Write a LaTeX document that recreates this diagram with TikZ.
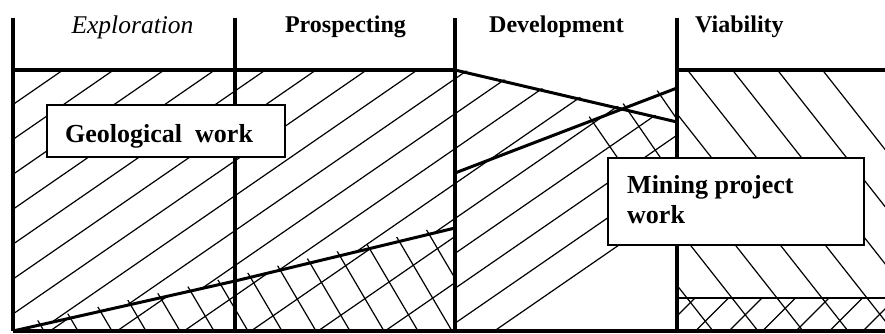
\documentclass[tikz,border=0pt]{standalone}
\usepackage{fontspec}
\setmainfont{Liberation Serif}
% #1 x position of line 0 on the reference height #2, #3 horizontal spacing,
% #4 slope (positive: rising to the right), #5..#6 index range
\newcommand\hatchset[6]{%
  \foreach \k in {#5,...,#6}{%
    \pgfmathsetmacro\hxa{#1+#3*\k-400}%
    \pgfmathsetmacro\hya{#2+#4*400}%
    \pgfmathsetmacro\hxb{#1+#3*\k+400}%
    \pgfmathsetmacro\hyb{#2-#4*400}%
    \draw[hatchline] (\hxa,\hya) -- (\hxb,\hyb);}}
\begin{document}
\begin{tikzpicture}[x=1pt,y=-1pt,
  vframe/.style={line width=4.5pt},
  hframe/.style={line width=3.6pt},
  bound/.style={line width=3pt},
  hatchline/.style={line width=1.2pt},
  boxstyle/.style={draw, line width=1.1pt, fill=white, inner sep=0pt},
  head/.style={font=\fontsize{24}{28}\selectfont\bfseries, inner sep=0pt},
  boxtext/.style={font=\fontsize{26}{30}\selectfont\bfseries, inner sep=0pt, anchor=base west}]
\useasboundingbox (0,0) rectangle (885,333);
% key coordinates
\coordinate (v1t) at (13,18);   \coordinate (v1b) at (13,331);
\coordinate (v2t) at (235,18);  \coordinate (v2b) at (235,331);
\coordinate (v3t) at (455,18);  \coordinate (v3b) at (455,331);
\coordinate (v4t) at (677,18);  \coordinate (v4b) at (677,331);
\coordinate (bl) at (13,331);   \coordinate (br) at (885,331);
\coordinate (tl) at (13,70);    \coordinate (tm) at (455,70);
\coordinate (tv) at (677,70);   \coordinate (tr) at (885,70);
\coordinate (lb1) at (13,331);  \coordinate (lb2) at (235,281); \coordinate (lb3) at (455,228);
\coordinate (d1) at (455,70);   \coordinate (d2) at (677,122);
\coordinate (a1) at (455,173);  \coordinate (a2) at (677,88);
\coordinate (vl) at (677,298);  \coordinate (vr) at (885,298);
% --- hatching: exploration / prospecting, upper single hatch
\begin{scope}
  \clip (13,70) -- (455,70) -- (455,228) -- (235,281) -- (13,331) -- cycle;
  \hatchset{63}{70}{50.6}{0.69}{-10}{16}
\end{scope}
% lower-left cross hatch
\begin{scope}
  \clip (13,331) -- (235,281) -- (455,228) -- (455,331) -- cycle;
  \hatchset{50}{331}{67}{0.69}{-3}{12}
\end{scope}
\begin{scope}
  \clip (13,326) -- (235,276) -- (455,223) -- (455,331) -- (13,331) -- cycle;
  \hatchset{78}{331}{34}{-1.7}{-2}{14}
\end{scope}
% development: "/" below descending line
\begin{scope}
  \clip (455,68) -- (677,120) -- (677,331) -- (455,331) -- cycle;
  \hatchset{63}{70}{50.6}{0.69}{-10}{16}
\end{scope}
% development: "\" below ascending line
\begin{scope}
  \clip (455,168) -- (677,83) -- (677,331) -- (455,331) -- cycle;
  \hatchset{823}{331}{43}{-1.45}{-2}{12}
\end{scope}
% viability
\begin{scope}
  \clip (677,70) rectangle (885,331);
  \hatchset{758}{331}{45}{-1.27}{-8}{6}
\end{scope}
\begin{scope}
  \clip (677,298) rectangle (885,331);
  \hatchset{695}{298}{33.5}{1.0}{-2}{8}
\end{scope}
% --- frame lines
\draw[hframe] (tl) -- (tm);
\draw[hframe] (tv) -- (tr);
\draw[hframe] (bl) -- (br);
\draw[hatchline] (vl) -- (vr);
\draw[bound] (lb1) -- (lb2) -- (lb3);
\draw[bound] (d1) -- (d2);
\draw[bound] (a1) -- (a2);
\draw[vframe] (v1t) -- (v1b);
\draw[vframe] (v2t) -- (v2b);
\draw[vframe] (v3t) -- (v3b);
\draw[vframe] (v4t) -- (v4b);
% --- headers
\node[inner sep=0pt, anchor=base, font=\fontsize{25.5}{28}\selectfont\itshape] (hexp) at (132.5,33) {Exploration};
\node[head, anchor=base] (hpro) at (345.5,32) {Prospecting};
\node[head, anchor=base] (hdev) at (556.5,32) {Development};
\node[head, anchor=base west] (hvia) at (695,32) {Viability};
% --- boxes
\node[boxstyle, minimum width=238pt, minimum height=52pt] (geobox) at (166,131) {};
\node[boxtext] (geotext) at (65,142) {Geological~~work};
\node[boxstyle, minimum width=256pt, minimum height=87pt] (minbox) at (736,201.5) {};
\node[boxtext] (mintext1) at (627,193) {Mining project};
\node[boxtext] (mintext2) at (627,223) {work};
\end{tikzpicture}
\end{document}
